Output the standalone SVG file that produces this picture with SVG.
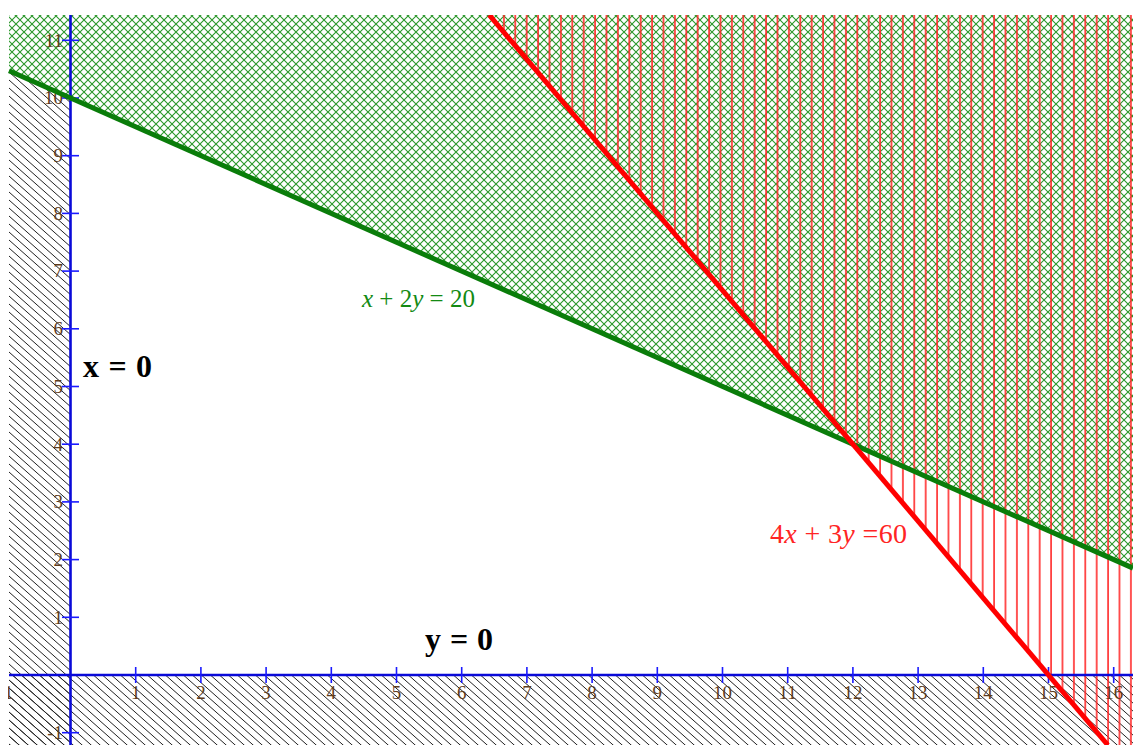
<svg xmlns="http://www.w3.org/2000/svg" width="1133" height="745" viewBox="0 0 1133 745">
<style>
.tick{stroke:#1a1aff;stroke-width:1.6}
.axis{stroke:#0a0ad8;stroke-width:2.6;fill:none}
.tl{font-family:"Liberation Serif",serif;font-size:19px;fill:#5e3c1c}
.tx{text-anchor:middle}
.ty{text-anchor:end}
.eqg{font-family:"Liberation Serif",serif;font-size:25px;fill:#138a13}
.eqr{font-family:"Liberation Serif",serif;font-size:28px;fill:#ff2424}
.bold{font-family:"Liberation Serif",serif;font-size:32px;font-weight:bold;fill:#000}
</style>
<defs>
<pattern id="blackHatch" patternUnits="userSpaceOnUse" width="9" height="8">
<path d="M-1,-0.889 L10,8.889 M-10,-0.889 L1,8.889 M8,-0.889 L19,8.889" stroke="#222" stroke-width="1"/>
</pattern>
<pattern id="greenHatch" patternUnits="userSpaceOnUse" width="8" height="8">
<path d="M-1,-1 L9,9 M9,-1 L-1,9" stroke="#2a972a" stroke-width="1.1"/>
</pattern>
<pattern id="redHatch" patternUnits="userSpaceOnUse" x="981.7" y="0" width="11.4" height="20">
<line x1="1" y1="0" x2="1" y2="20" stroke="#ff2a2a" stroke-width="1.6"/>
</pattern>
<clipPath id="plot"><rect x="8" y="15" width="1125" height="730"/></clipPath>
</defs>
<rect width="1133" height="745" fill="#fff"/>
<g id="regions" clip-path="url(#plot)">
<polygon id="region-x-neg" points="9,70.8 70.5,98 70.5,745 9,745" fill="url(#blackHatch)"/>
<rect id="region-y-neg" x="9" y="675" width="1124" height="70" fill="url(#blackHatch)"/>
<polygon id="region-green" points="9,15 1133,15 1133,568.1 9,70.8" fill="url(#greenHatch)"/>
<polygon id="region-red" points="489.2,15 1133,15 1133,745 1107.8,745" fill="url(#redHatch)"/>
</g>
<g id="axes" clip-path="url(#plot)">
<line class="axis" x1="9" y1="675" x2="1133" y2="675"/>
<line class="axis" x1="70.5" y1="15" x2="70.5" y2="745"/>
<g id="xticks">
<line class="tick" x1="135.7" y1="667" x2="135.7" y2="683"/>
<line class="tick" x1="200.9" y1="667" x2="200.9" y2="683"/>
<line class="tick" x1="266.1" y1="667" x2="266.1" y2="683"/>
<line class="tick" x1="331.3" y1="667" x2="331.3" y2="683"/>
<line class="tick" x1="396.5" y1="667" x2="396.5" y2="683"/>
<line class="tick" x1="461.7" y1="667" x2="461.7" y2="683"/>
<line class="tick" x1="526.9" y1="667" x2="526.9" y2="683"/>
<line class="tick" x1="592.1" y1="667" x2="592.1" y2="683"/>
<line class="tick" x1="657.3" y1="667" x2="657.3" y2="683"/>
<line class="tick" x1="722.5" y1="667" x2="722.5" y2="683"/>
<line class="tick" x1="787.7" y1="667" x2="787.7" y2="683"/>
<line class="tick" x1="852.9" y1="667" x2="852.9" y2="683"/>
<line class="tick" x1="918.1" y1="667" x2="918.1" y2="683"/>
<line class="tick" x1="983.3" y1="667" x2="983.3" y2="683"/>
<line class="tick" x1="1048.5" y1="667" x2="1048.5" y2="683"/>
<line class="tick" x1="1113.7" y1="667" x2="1113.7" y2="683"/>
</g>
<g id="yticks">
<line class="tick" x1="62" y1="732.7" x2="79" y2="732.7"/>
<line class="tick" x1="62" y1="617.3" x2="79" y2="617.3"/>
<line class="tick" x1="62" y1="559.6" x2="79" y2="559.6"/>
<line class="tick" x1="62" y1="501.9" x2="79" y2="501.9"/>
<line class="tick" x1="62" y1="444.2" x2="79" y2="444.2"/>
<line class="tick" x1="62" y1="386.5" x2="79" y2="386.5"/>
<line class="tick" x1="62" y1="328.8" x2="79" y2="328.8"/>
<line class="tick" x1="62" y1="271.1" x2="79" y2="271.1"/>
<line class="tick" x1="62" y1="213.4" x2="79" y2="213.4"/>
<line class="tick" x1="62" y1="155.7" x2="79" y2="155.7"/>
<line class="tick" x1="62" y1="98" x2="79" y2="98"/>
<line class="tick" x1="62" y1="40.3" x2="79" y2="40.3"/>
</g>
</g>
<g id="tick-labels" clip-path="url(#plot)">
<text class="tl tx" x="5.3" y="699">-1</text>
<text class="tl tx" x="135.7" y="699">1</text>
<text class="tl tx" x="200.9" y="699">2</text>
<text class="tl tx" x="266.1" y="699">3</text>
<text class="tl tx" x="331.3" y="699">4</text>
<text class="tl tx" x="396.5" y="699">5</text>
<text class="tl tx" x="461.7" y="699">6</text>
<text class="tl tx" x="526.9" y="699">7</text>
<text class="tl tx" x="592.1" y="699">8</text>
<text class="tl tx" x="657.3" y="699">9</text>
<text class="tl tx" x="722.5" y="699">10</text>
<text class="tl tx" x="787.7" y="699">11</text>
<text class="tl tx" x="852.9" y="699">12</text>
<text class="tl tx" x="918.1" y="699">13</text>
<text class="tl tx" x="983.3" y="699">14</text>
<text class="tl tx" x="1048.5" y="699">15</text>
<text class="tl tx" x="1113.7" y="699">16</text>
<text class="tl ty" x="63" y="739">-1</text>
<text class="tl ty" x="63" y="623.6">1</text>
<text class="tl ty" x="63" y="565.9">2</text>
<text class="tl ty" x="63" y="508.2">3</text>
<text class="tl ty" x="63" y="450.5">4</text>
<text class="tl ty" x="63" y="392.8">5</text>
<text class="tl ty" x="63" y="335.1">6</text>
<text class="tl ty" x="63" y="277.4">7</text>
<text class="tl ty" x="63" y="219.7">8</text>
<text class="tl ty" x="63" y="162">9</text>
<text class="tl ty" x="63" y="104.3">10</text>
<text class="tl ty" x="63" y="46.6">11</text>
</g>
<g id="connectors" clip-path="url(#plot)">
<line id="line-green" x1="9" y1="70.8" x2="1133" y2="568.1" stroke="#0a7d0a" stroke-width="5"/>
<line id="line-red" x1="489.2" y1="15" x2="1107.8" y2="745" stroke="#ff0000" stroke-width="5"/>
</g>
<g id="labels">
<text class="eqg" x="362" y="307" textLength="113" lengthAdjust="spacing"><tspan font-style="italic">x</tspan> + 2<tspan font-style="italic">y</tspan> = 20</text>
<text class="eqr" x="770" y="543" textLength="137" lengthAdjust="spacing">4<tspan font-style="italic">x</tspan> + 3<tspan font-style="italic">y</tspan> =60</text>
<text class="bold" x="83" y="377" textLength="69" lengthAdjust="spacing">x = 0</text>
<text class="bold" x="425" y="650" textLength="68" lengthAdjust="spacing">y = 0</text>
</g>
</svg>
